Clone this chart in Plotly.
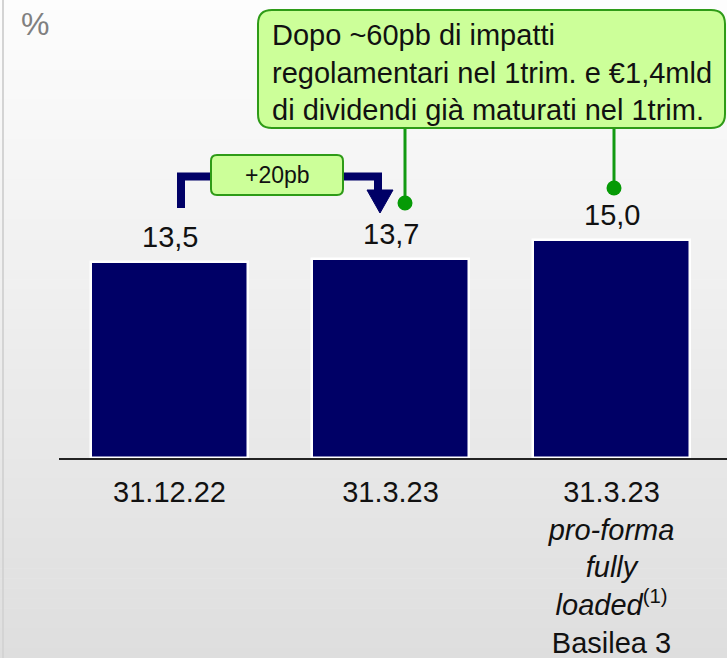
import plotly.graph_objects as go

# ---- data ----
categories = ["31.12.22", "31.3.23", "31.3.23 pro-forma"]
tick_labels = [
    "31.12.22",
    "31.3.23",
    "31.3.23<br><i>pro-forma</i><br><i>fully</i><br><i>loaded</i><sup>(1)</sup><br>Basilea 3",
]
values = [13.5, 13.7, 15.0]
value_labels = ["13,5", "13,7", "15,0"]
delta_label = "+20pb"
callout_text = ("Dopo ~60pb di impatti<br>regolamentari nel 1trim. e €1,4mld"
                "<br>di dividendi già maturati nel 1trim.")
unit_label = "%"

# ---- layout geometry (pixels) ----
W, H = 727, 658
L, R, T, B = 59, 0, 0, 200
PW, PH = W - L - R, H - T - B
CAT_PX = 221.0
FONT = "Liberation Sans, Arial, sans-serif"
NAVY = "#000066"
GREEN = "#2e9b17"
LIGHT_GREEN = "#ccff99"


def px(xp):
    return (xp - L) / PW


def py(yp):
    return (T + PH - yp) / PH


def rrect(x0, y0, x1, y1, r):
    pts = [
        ("M", [(x0 + r, y0)]), ("L", [(x1 - r, y0)]), ("Q", [(x1, y0), (x1, y0 + r)]),
        ("L", [(x1, y1 - r)]), ("Q", [(x1, y1), (x1 - r, y1)]), ("L", [(x0 + r, y1)]),
        ("Q", [(x0, y1), (x0, y1 - r)]), ("L", [(x0, y0 + r)]), ("Q", [(x0, y0), (x0 + r, y0)]),
    ]
    s = ""
    for cmd, ps in pts:
        s += cmd + " " + " ".join(f"{px(a):.5f},{py(b):.5f}" for a, b in ps) + " "
    return s + "Z"


def poly(points, close=False):
    s = "M " + " L ".join(f"{px(a):.5f},{py(b):.5f}" for a, b in points)
    return s + (" Z" if close else "")


fig = go.Figure()
fig.add_trace(go.Bar(
    x=categories, y=values, width=0.71,
    marker=dict(color=NAVY, line=dict(color="white", width=2.5)),
    hoverinfo="skip", showlegend=False,
))

shapes = []
# background gradient
N = 66
for i in range(N):
    y0 = H * i / N
    y1 = H * (i + 1) / N + 0.6
    c = round(253 - (253 - 222) * (i + 0.5) / N)
    shapes.append(dict(type="rect", xref="paper", yref="paper", layer="below",
                       x0=px(0), x1=px(W), y0=py(y1), y1=py(y0),
                       fillcolor=f"rgb({c},{c},{c})", line=dict(width=0)))
# left frame line
shapes.append(dict(type="line", xref="paper", yref="paper", layer="below",
                   x0=px(3), x1=px(3), y0=py(0), y1=py(H),
                   line=dict(color="#d4d4d4", width=2)))

# navy arrow
shapes.append(dict(type="path", xref="paper", yref="paper",
                   path=poly([(181, 208), (181, 176.5), (378, 176.5), (378, 192)]),
                   line=dict(color=NAVY, width=8), fillcolor="rgba(0,0,0,0)"))
shapes.append(dict(type="path", xref="paper", yref="paper",
                   path=poly([(367, 190), (393, 190), (380, 213)], close=True),
                   line=dict(color=NAVY, width=1), fillcolor=NAVY))
# +20pb box
shapes.append(dict(type="path", xref="paper", yref="paper",
                   path=rrect(211, 155, 343, 195, 6),
                   line=dict(color=GREEN, width=2), fillcolor=LIGHT_GREEN))
# callout connectors
for xc, yd in [(405, 203), (614, 188)]:
    shapes.append(dict(type="line", xref="paper", yref="paper",
                       x0=px(xc), x1=px(xc), y0=py(128), y1=py(yd),
                       line=dict(color="#129a12", width=3)))
    shapes.append(dict(type="circle", xref="paper", yref="paper",
                       x0=px(xc - 7.5), x1=px(xc + 7.5), y0=py(yd + 7.5), y1=py(yd - 7.5),
                       line=dict(width=0), fillcolor="#069a06"))
# callout box
shapes.append(dict(type="path", xref="paper", yref="paper",
                   path=rrect(258, 10, 725, 128, 14),
                   line=dict(color=GREEN, width=2), fillcolor=LIGHT_GREEN))

annotations = []
for c, v, t in zip(categories, values, value_labels):
    annotations.append(dict(x=c, y=v, xref="x", yref="y", text=t, showarrow=False,
                            yanchor="bottom", yshift=7,
                            font=dict(family=FONT, size=29, color="#111111")))
annotations.append(dict(xref="paper", yref="paper", x=px(35), y=py(24), text=unit_label,
                        showarrow=False, xanchor="center", yanchor="middle",
                        font=dict(family=FONT, size=32, color="#808080")))
annotations.append(dict(xref="paper", yref="paper", x=px(277), y=py(175), text=delta_label,
                        showarrow=False, xanchor="center", yanchor="middle",
                        font=dict(family=FONT, size=23, color="#111111")))
annotations.append(dict(xref="paper", yref="paper", x=px(270), y=py(73), text=callout_text,
                        showarrow=False, xanchor="left", yanchor="middle", align="left",
                        font=dict(family=FONT, size=29, color="#111111")))

fig.update_layout(
    width=W, height=H,
    margin=dict(l=L, r=R, t=T, b=B, pad=0),
    paper_bgcolor="white", plot_bgcolor="rgba(0,0,0,0)",
    bargap=0, showlegend=False, hovermode=False,
    shapes=shapes, annotations=annotations,
    xaxis=dict(range=[-0.5, -0.5 + PW / CAT_PX], tickmode="array",
               tickvals=categories, ticktext=tick_labels,
               showline=True, linecolor="#222222", linewidth=2,
               ticks="", showgrid=False, zeroline=False, ticklabelstandoff=7,
               tickfont=dict(family=FONT, size=29, color="#111111")),
    yaxis=dict(range=[0, PH / 14.52], visible=False, showgrid=False, zeroline=False),
)

fig.write_html("out.html", config={"displayModeBar": False},
               post_script="document.body.style.margin='0';document.body.style.overflow='hidden';")
